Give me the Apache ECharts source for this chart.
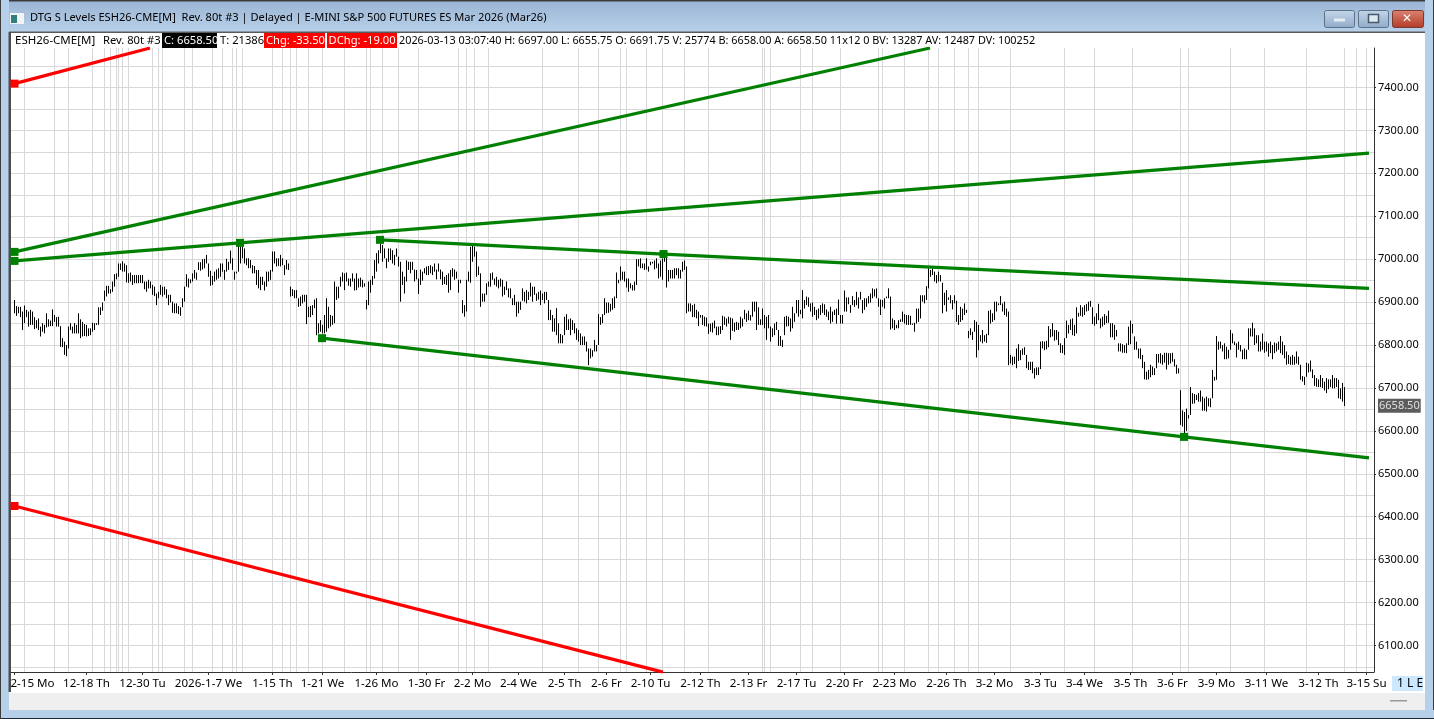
<!DOCTYPE html>
<html><head><meta charset="utf-8">
<style>html,body{margin:0;padding:0;background:#fff}#c{width:1434px;height:719px}</style>
<script src="https://cdn.jsdelivr.net/npm/echarts@6/dist/echarts.min.js"></script>
</head><body><div id="c"></div>
<script>
const FONT = '"Noto Sans", "Open Sans", sans-serif';
const titleText = 'DTG S Levels ESH26-CME[M]  Rev. 80t #3 | Delayed | E-MINI S&P 500 FUTURES ES Mar 2026 (Mar26)';

const priceLabels = [6100,6200,6300,6400,6500,6600,6700,6800,6900,7000,7100,7200,7300,7400];
const priceGrid = [6050,6100,6150,6200,6250,6300,6350,6400,6450,6500,6550,6600,6650,6700,6750,6800,6850,6900,6950,7000,7050,7100,7150,7200,7250,7300,7350,7400,7450];
const lastPrice = 6658.5;

const dateLabels = ['2-15 Mo','12-18 Th','12-30 Tu','2026-1-7 We','1-15 Th','1-21 We','1-26 Mo','1-30 Fr','2-2 Mo','2-4 We','2-5 Th','2-6 Fr','2-10 Tu','2-12 Th','2-13 Fr','2-17 Tu','2-20 Fr','2-23 Mo','2-26 Th','3-2 Mo','3-3 Tu','3-4 We','3-5 Th','3-6 Fr','3-9 Mo','3-11 We','3-12 Th','3-15 Su'];
const dateTicks = [0,36,64,97,129,154,181,206,229,252,275,296,318,343,367,391,415,440,466,490,513,535,558,579,601,626,652,676];
const dateLabelAt = [9,36,64,97,129,154,181,206,229,252,275,296,318,343,367,391,415,440,466,490,513,535,558,579,601,626,652,676];
const sessionLines = [5,20,27,39,45,48,51,52,54,57,69,72,74,85,89,99,104,109,111,114,129,134,138,141,147,154,165,176,178,184,192,202,222,226,230,237,264,282,292,303,306,316,324,335,347,374,375,378,393,399,413,432,434,445,457,462,470,477,482,498,525,540,559,583,587,608,625,646,665,671,676];

const highs = [
6905,6891,6889,6889,6878,6892,6882,6878,6882,6878,6865,6858,6862,6843,6851,6847,6874,6860,6857,6883,6870,6865,6866,6844,6816,6808,6800,6843,6851,6843,6851,6847,6874,6860,6854,6849,6847,6839,6839,6852,6851,6851,6888,6888,6899,6927,6938,6938,6930,6948,6965,6967,6990,6990,6995,6990,6986,6967,6969,6963,6963,6963,6963,6963,6963,6948,6948,6952,6948,6940,6936,6920,6924,6940,6936,6936,6930,6917,6917,6901,6897,6897,6891,6888,6909,6936,6965,6955,6953,6967,6975,6969,6993,6993,7000,7001,7010,6990,6973,6961,6971,6976,6979,6990,6990,6975,7001,6994,7020,7002,6971,6971,7033,7029,7029,7025,7002,7002,6998,6986,6984,6975,6975,6959,6959,6948,6971,6971,6975,7018,7018,7002,7002,7010,7002,6986,6998,6990,6936,6930,6928,6928,6909,6913,6917,6917,6917,6889,6891,6893,6906,6909,6851,6858,6847,6870,6909,6889,6870,6868,6948,6936,6936,6959,6969,6967,6969,6955,
6955,6967,6955,6967,6955,6957,6952,6944,6905,6948,6952,6961,6998,7014,7021,7037,7033,7025,7002,7025,7025,7021,7010,7025,7006,6994,6971,6959,6997,6994,6994,6994,6976,6975,6955,6976,6971,6979,6983,6984,6986,6983,6990,6976,6990,6976,6971,6959,6963,6967,6975,6979,6976,6971,6952,6952,6905,6893,6952,6971,7029,7031,7029,7018,6983,6967,6920,6920,6944,6948,6967,6969,6955,6959,6952,6955,6952,6936,6948,6932,6932,6909,6917,6901,6901,6901,6932,6924,6928,6924,6945,6936,6936,6920,6924,6927,6920,6924,6924,6905,6882,6870,6862,6886,6851,6826,6823,6866,6872,6860,6862,6858,6851,6839,6835,6827,6820,6820,6808,6792,6792,6788,6812,6800,6872,6865,6872,6909,6899,6899,6896,6909,6913,6969,6952,6983,6971,6971,6955,6955,6944,6940,6948,7000,7000,7002,6990,6990,7002,6983,6994,6994,6997,7002,6990,6997,7002,7010,7006,6975,6975,6975,6979,6979,6979,6975,6994,6997,6983,6897,6897,6893,6896,6882,6878,
6870,6870,6866,6864,6850,6850,6852,6857,6843,6843,6844,6868,6866,6862,6866,6864,6862,6852,6854,6852,6866,6862,6882,6874,6880,6870,6901,6901,6901,6888,6860,6885,6870,6866,6870,6843,6839,6850,6854,6835,6821,6812,6866,6868,6866,6862,6889,6874,6905,6905,6882,6928,6905,6913,6911,6897,6899,6889,6882,6885,6893,6897,6895,6883,6878,6889,6878,6882,6885,6906,6870,6870,6927,6911,6911,6893,6914,6905,6924,6911,6924,6905,6909,6909,6914,6920,6932,6930,6932,6909,6906,6905,6909,6913,6932,6913,6862,6858,6847,6858,6860,6878,6872,6870,6870,6868,6850,6852,6885,6885,6916,6916,6916,6937,6979,6975,6979,6971,6963,6971,6963,6945,6922,6928,6911,6916,6905,6916,6903,6870,6889,6885,6897,6882,6833,6839,6831,6858,6854,6847,6823,6835,6823,6826,6880,6882,6874,6901,6901,6897,6914,6897,6901,6885,6878,6777,6773,6773,6792,6802,6788,6792,6795,6777,6761,6761,6761,6746,6748,6748,6808,6809,6808,6810,6844,
6837,6851,6835,6835,6831,6804,6800,6816,6857,6847,6860,6862,6847,6888,6875,6893,6888,6893,6896,6901,6903,6888,6866,6874,6896,6862,6866,6872,6868,6880,6851,6851,6847,6835,6804,6804,6802,6800,6804,6843,6857,6849,6820,6808,6792,6792,6777,6761,6738,6742,6754,6750,6746,6779,6779,6781,6777,6782,6782,6781,6781,6782,6767,6754,6746,6695,6648,6644,6652,6637,6702,6688,6686,6684,6688,6694,6680,6676,6680,6676,6676,6742,6726,6821,6808,6808,6800,6804,6796,6789,6835,6827,6808,6804,6808,6800,6789,6792,6789,6839,6839,6852,6839,6823,6823,6808,6827,6808,6808,6804,6808,6800,6806,6804,6808,6821,6808,6800,6785,6777,6773,6777,6773,6785,6773,6754,6728,6726,6759,6757,6764,6743,6730,6723,6720,6730,6723,6715,6723,6720,6720,6730,6723,6723,6719,6699,6712,6702];
const lows = [
6874,6868,6874,6865,6835,6851,6865,6843,6847,6847,6837,6839,6835,6820,6831,6827,6841,6843,6844,6844,6854,6843,6843,6796,6795,6777,6774,6792,6835,6827,6827,6827,6827,6816,6820,6821,6820,6821,6823,6831,6835,6847,6847,6870,6880,6903,6913,6920,6920,6924,6936,6953,6959,6975,6971,6971,6946,6945,6948,6940,6944,6944,6944,6945,6944,6930,6924,6932,6932,6917,6914,6893,6909,6917,6913,6917,6909,6893,6899,6875,6874,6874,6872,6868,6888,6901,6936,6934,6944,6948,6955,6952,6975,6973,6976,6979,6990,6959,6938,6940,6948,6952,6955,6959,6971,6952,6971,6975,6990,6975,6952,6967,6971,6990,7002,6990,6986,6979,6979,6967,6967,6940,6932,6928,6940,6927,6936,6948,6952,6971,6990,6983,6984,6983,6986,6963,6976,6975,6913,6914,6909,6909,6889,6891,6897,6901,6849,6865,6865,6870,6886,6823,6827,6831,6827,6827,6831,6839,6843,6847,6851,6905,6909,6936,6948,6928,6948,6938,
6936,6948,6927,6928,6934,6936,6934,6936,6883,6893,6922,6940,6955,6971,6990,7014,6994,7002,6979,6994,6998,6990,6986,7006,6983,6901,6940,6920,6948,6975,6967,6975,6948,6953,6919,6940,6950,6967,6963,6963,6967,6963,6971,6953,6971,6953,6940,6942,6940,6922,6928,6959,6952,6955,6922,6944,6874,6866,6878,6948,6945,6994,7006,6959,6963,6889,6901,6901,6917,6936,6936,6952,6940,6936,6932,6936,6913,6917,6928,6911,6909,6893,6893,6866,6874,6882,6903,6901,6897,6905,6913,6901,6917,6903,6906,6893,6905,6897,6905,6858,6858,6831,6831,6823,6804,6804,6804,6823,6835,6835,6823,6835,6827,6812,6808,6800,6800,6800,6785,6753,6769,6773,6785,6785,6800,6847,6851,6870,6874,6875,6878,6882,6886,6909,6944,6950,6952,6948,6934,6924,6932,6927,6927,6940,6983,6979,6979,6975,6976,6971,6986,6990,6976,6979,6955,6959,6952,6994,6934,6948,6955,6955,6955,6963,6955,6955,6971,6975,6874,6878,6878,6865,6865,6862,6844,
6864,6847,6844,6843,6826,6831,6829,6839,6823,6823,6826,6835,6847,6843,6850,6812,6833,6831,6835,6835,6839,6843,6860,6854,6858,6857,6866,6878,6835,6847,6847,6847,6839,6812,6839,6808,6819,6823,6835,6798,6798,6795,6823,6843,6844,6831,6839,6854,6874,6866,6872,6862,6885,6893,6889,6878,6866,6870,6858,6862,6870,6875,6870,6866,6858,6850,6854,6870,6850,6870,6850,6850,6878,6878,6895,6875,6893,6889,6893,6885,6906,6874,6882,6889,6897,6899,6909,6913,6909,6889,6870,6889,6885,6909,6909,6836,6839,6835,6839,6839,6854,6854,6850,6847,6847,6847,6847,6831,6850,6854,6862,6901,6897,6905,6932,6959,6963,6948,6944,6948,6948,6874,6893,6878,6905,6897,6883,6897,6854,6847,6854,6858,6870,6875,6816,6823,6812,6831,6771,6788,6808,6804,6808,6805,6823,6850,6854,6858,6878,6893,6893,6878,6870,6866,6753,6757,6753,6756,6746,6763,6765,6777,6777,6746,6742,6742,6734,6722,6730,6730,6744,6792,6788,6790,6795,
6818,6820,6810,6812,6800,6782,6781,6777,6816,6827,6835,6823,6821,6827,6866,6868,6866,6870,6878,6880,6889,6849,6845,6849,6858,6839,6843,6847,6851,6852,6818,6818,6812,6820,6785,6785,6782,6782,6781,6800,6802,6827,6789,6789,6769,6767,6746,6720,6719,6720,6725,6730,6730,6746,6759,6757,6754,6759,6743,6754,6757,6761,6750,6733,6734,6614,6610,6594,6600,6629,6637,6663,6664,6672,6668,6668,6647,6647,6645,6657,6655,6676,6717,6719,6789,6792,6785,6767,6767,6769,6789,6804,6800,6771,6789,6785,6767,6767,6767,6789,6820,6820,6800,6804,6785,6785,6789,6782,6785,6773,6781,6767,6781,6785,6789,6781,6777,6769,6754,6756,6754,6754,6754,6757,6754,6719,6715,6707,6726,6736,6738,6723,6705,6703,6702,6702,6700,6694,6688,6697,6702,6699,6699,6702,6676,6674,6668,6658];

const greenA = [[0,7017],[457.75,7492]];
const greenB = [[0,6996],[112.75,7038],[677.25,7247]];
const greenC = [[182.75,7045],[324.5,7012],[677.25,6932]];
const greenD = [[153.75,6816],[584.75,6586],[677.25,6537]];
const redA = [[0,7409],[67.75,7492]];
const redB = [[0,6425],[324.25,6038]];

const X_MIN = -1.75, X_MAX = 679.75, Y_MIN = 6038.3, Y_MAX = 7492;
const GREEN = '#008000', RED = '#ff0000';

function renderHL(params, api){
  const x = api.value(0);
  const a = api.coord([x, api.value(1)]), b = api.coord([x, api.value(2)]);
  return {type:'line', shape:{x1:a[0],y1:a[1],x2:b[0],y2:b[1]}, style:{stroke:'#000',lineWidth:1}};
}
function trend(name, data, color){
  const last = data.length - 1;
  return {type:'line', name, data, xAxisIndex:0, yAxisIndex:0, z:4, silent:true, animation:false,
    showSymbol:true, symbolSize:8, clip:true,
    symbol:(v,p)=> (p.dataIndex === last ? 'none' : 'rect'),
    lineStyle:{color,width:3.2}, itemStyle:{color}};
}
const rect = (x,y,w,h,fill) => ({type:'rect',silent:true,shape:{x,y,width:w,height:h},style:{fill}});
const txt = (x,y,text,fill,size) => ({type:'text',silent:true,x,y,style:{text,fill:fill||'#000',font:(size||11)+'px '+FONT,verticalAlign:'middle',textAlign:'left'}});
const vgrad = (a,b)=>new echarts.graphic.LinearGradient(0,0,0,1,[{offset:0,color:a},{offset:1,color:b}]);
const btn = (x,w,a,b,stroke)=>({type:'rect',silent:true,shape:{x,y:10.5,width:w,height:17,r:2},style:{fill:vgrad(a,b),stroke:stroke||'#5d7286',lineWidth:1}});

const chrome = [
  rect(0,0,1434,33,vgrad('#99b4d3','#b9d1ea')),
  rect(0,0,1434,1.5,'#3c3c3c'),
  rect(0,0,9,719,'#b7d0ea'),
  rect(1425,0,9,719,'#b7d0ea'),
  rect(1433,0,1,719,'#3c3c3c'),
  rect(0,710,1434,9,'#b7d0ea'),
  rect(0,718,1434,1,'#1e2a38'),
  rect(0,0,1,719,'#3c3c3c'),
  rect(9,31.5,1416,1.5,'#5a5a5a'),
  rect(8.5,32,2.5,660,'#4d4d4d'),
  rect(9,693,1416,17,'#efefef'),
  rect(1390,700,17,1.5,'#9a9a9a'),
  rect(1392,676,31,15,'#cce8ff'),
  txt(1397,684,'1 L E','#000',12),
  rect(10,13,14,11,'#f4f4f4'),
  rect(11,15,6,8,'#2f7f80'),
  btn(1324.5,30,'#c4d6ea','#8fabc9'),
  rect(1334,18.5,11,3,'#e6ecf3'),
  btn(1358.5,30,'#c4d6ea','#8fabc9'),
  {type:'rect',silent:true,shape:{x:1368.5,y:14.5,width:10,height:8},style:{fill:'#dfe7f0',stroke:'#48596b',lineWidth:1.5}},
  btn(1392.5,31,'#dc8473','#b13a26','#7a3a30'),
  txt(1402,18.5,'✕','#ffffff',12),
  rect(162,33,55,15,'#000000'),
  rect(264,33,61,15,'#ff0000'),
  rect(327,33,70,15,'#ff0000'),
  txt(15,41,'ESH26-CME[M]','#000',11.5),
  txt(103,41,'Rev. 80t #3','#000',11.2),
  txt(164,41,'C: 6658.50','#ffffff',11.2),
  txt(220,41,'T: 21386','#000',11.2),
  txt(266,41,'Chg: -33.50','#ffffff',11.2),
  txt(328.5,41,'DChg: -19.00','#ffffff',11.2),
  txt(399,41,'2026-03-13 03:07:40 H: 6697.00 L: 6655.75 O: 6691.75 V: 25774 B: 6658.00 A: 6658.50 11x12 0 BV: 13287 AV: 12487 DV: 100252','#000',10.85)
];

const chart = echarts.init(document.getElementById('c'), null, {renderer:'canvas'});
const labelMap = Object.fromEntries(dateLabelAt.map((v,i)=>[v,dateLabels[i]]));
chart.setOption({
  animation:false,
  backgroundColor:'#ffffff',
  textStyle:{fontFamily:FONT},
  title:{text:titleText,left:30,top:12,padding:0,textStyle:{fontFamily:FONT,fontSize:11.1,fontWeight:'normal',color:'#000'}},
  graphic:{elements:chrome},
  grid:{left:11,right:60,top:48,bottom:47,show:false},
  xAxis:[
    {type:'value',min:X_MIN,max:X_MAX,position:'bottom',
     axisLine:{show:true,onZero:false,lineStyle:{color:'#333',width:1}},
     axisTick:{show:true,length:3,customValues:dateTicks,lineStyle:{color:'#333'}},
     axisLabel:{customValues:dateLabelAt,margin:6,color:'#000',fontSize:11.6,fontFamily:FONT,hideOverlap:false,
       showMinLabel:true,showMaxLabel:true,formatter:v=>labelMap[v]||''},
     splitLine:{show:false}},
    {type:'value',min:X_MIN,max:X_MAX,position:'top',
     axisLine:{show:false},axisLabel:{show:false},
     axisTick:{show:false,customValues:sessionLines},
     splitLine:{show:true,lineStyle:{color:'#d8d8d8',width:1}}}
  ],
  yAxis:[
    {type:'value',min:Y_MIN,max:Y_MAX,position:'right',
     axisLine:{show:true,onZero:false,lineStyle:{color:'#333',width:1}},
     axisTick:{show:true,length:2,customValues:priceLabels,lineStyle:{color:'#333'}},
     axisLabel:{customValues:priceLabels,margin:4,color:'#000',fontSize:11,fontFamily:FONT,padding:[2,0,0,0],formatter:v=>v.toFixed(2)},
     splitLine:{show:false}},
    {type:'value',min:Y_MIN,max:Y_MAX,position:'left',
     axisLine:{show:false},axisLabel:{show:false},
     axisTick:{show:false,customValues:priceGrid},
     splitLine:{show:true,lineStyle:{color:'#d8d8d8',width:1}}}
  ],
  series:[
    {type:'custom',name:'ESH26',renderItem:renderHL,xAxisIndex:0,yAxisIndex:0,z:3,silent:true,animation:false,clip:true,
     encode:{x:0,y:[1,2]},data:highs.map((h,i)=>[i,h,lows[i]])},
    trend('Upper channel',greenA,GREEN),
    trend('Resistance',greenB,GREEN),
    trend('Falling top',greenC,GREEN),
    trend('Falling bottom',greenD,GREEN),
    trend('Outer upper',redA,RED),
    trend('Outer lower',redB,RED),
    {type:'scatter',name:'Last',xAxisIndex:0,yAxisIndex:0,z:6,silent:true,clip:false,symbolSize:0.01,
     data:[[X_MAX,lastPrice]],
     label:{show:true,position:'right',distance:4,formatter:p=>p.value[1].toFixed(2),color:'#fff',fontSize:11,fontFamily:FONT,
       backgroundColor:'#333333',padding:[2,1,1,1]}}
  ]
});
</script></body></html>
